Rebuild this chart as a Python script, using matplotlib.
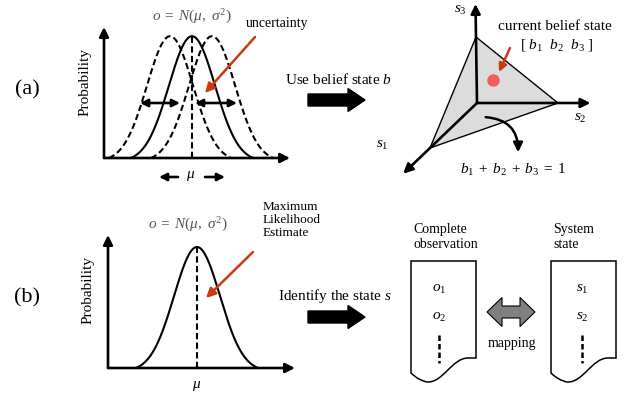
import numpy as np
import matplotlib
matplotlib.use('Agg')
import matplotlib.pyplot as plt
import matplotlib.patches as mpatches
from matplotlib.path import Path

plt.rcParams['font.family'] = ['Liberation Serif', 'DejaVu Serif']
plt.rcParams['mathtext.fontset'] = 'custom'
plt.rcParams['mathtext.rm'] = 'Liberation Serif'
plt.rcParams['mathtext.it'] = 'Liberation Serif:italic'
plt.rcParams['mathtext.bf'] = 'Liberation Serif:bold'

# bell curves: (a) three candidate means, (b) one
means_a = [3.55, 4.73, 5.81]
styles_a = ['--', '-', '--']
sigma_a = 1.24
peak_a = 0.93
mean_b = 4.76
sigma_b = 1.23
peak_b = 0.91
half_base = 2.65  # curve drawn out to this many sigmas

# belief simplex
belief = [0.2, 0.32, 0.48]
simplex_origin = (477, 103)
simplex_vecs = [(-47, 45), (81, 0), (-1, -66)]
axis_len = [1.57, 1.4, 1.5]
simplex_labels = ['$s_1$', '$s_2$', '$s_3$']

obs_labels = ['$o_1$', '$o_2$']
state_labels = ['$s_1$', '$s_2$']

RED = '#cc3a10'
W, H = 628, 399
fig = plt.figure(figsize=(W / 100, H / 100), dpi=100)


def bell(x, m, s, peak):
    g = np.exp(-(x - m) ** 2 / (2 * s * s))
    g0 = np.exp(-half_base ** 2 / 2)
    return peak * (g - g0) / (1 - g0)


def px_axes(x0, y0, x1, y1):
    return fig.add_axes([x0 / W, 1 - y1 / H, (x1 - x0) / W, (y1 - y0) / H])


def arrow_axes(ax):
    ax.set_xlim(0, 10)
    ax.set_ylim(0, 1)
    ax.axis('off')
    kw = dict(arrowstyle='-|>', lw=1.9, color='k', mutation_scale=14,
              shrinkA=0, shrinkB=0)
    ax.annotate('', xy=(1, 0), xytext=(0, 0), xycoords='axes fraction', arrowprops=kw)
    ax.annotate('', xy=(0, 1), xytext=(0, 0), xycoords='axes fraction', arrowprops=kw)


# ---- panel (a) curves
ax_a = px_axes(104, 27, 290, 158)
arrow_axes(ax_a)
for m, ls in zip(means_a, styles_a):
    x = np.linspace(m - half_base * sigma_a, m + half_base * sigma_a, 200)
    line, = ax_a.plot(x, bell(x, m, sigma_a, peak_a), color='k', lw=1.5, ls=ls)
    if ls == '--':
        line.set_dashes((3, 1.6))
ax_a.plot([means_a[1], means_a[1]], [0, peak_a], color='k', lw=1.5, dashes=(3, 1.6))

# ---- panel (b) curve
ax_b = px_axes(108, 235, 295, 368)
arrow_axes(ax_b)
x = np.linspace(mean_b - half_base * sigma_b, mean_b + half_base * sigma_b, 200)
ax_b.plot(x, bell(x, mean_b, sigma_b, peak_b), color='k', lw=1.5)
ax_b.plot([mean_b, mean_b], [0, peak_b], color='k', lw=1.5, dashes=(3, 1.6))

# ---- overlay in pixel coordinates
ov = fig.add_axes([0, 0, 1, 1])
ov.set_xlim(0, W)
ov.set_ylim(H, 0)
ov.axis('off')
ov.patch.set_alpha(0)


def arr(p_to, p_from, style='-|>', lw=1.9, ms=12, color='k'):
    ov.annotate('', xy=p_to, xytext=p_from,
                arrowprops=dict(arrowstyle=style, lw=lw, color=color,
                                mutation_scale=ms, shrinkA=0, shrinkB=0))


formula = r'$o\;=\;N(\mu,\ \sigma^2)$'
ov.text(27, 90, '(a)', fontsize=16, ha='center', va='center')
ov.text(27, 298, '(b)', fontsize=16, ha='center', va='center')
ov.text(85, 82, 'Probability', fontsize=11, rotation=90, ha='center', va='center')
ov.text(88, 290, 'Probability', fontsize=11, rotation=90, ha='center', va='center')
ov.text(192, 17, formula, fontsize=11, color='#555555', ha='center', va='center')
ov.text(188, 225, formula, fontsize=11, color='#555555', ha='center', va='center')

# uncertainty arrows
arr((140, 103), (180, 103), style='<|-|>', ms=11)
arr((195, 103), (237, 103), style='<|-|>', ms=11)
arr((159, 177), (178, 177), ms=11)
arr((225, 177), (205, 177), ms=11)
ov.text(191, 176, r'$\mu$', fontsize=11, ha='center', va='center')
ov.text(197, 386, r'$\mu$', fontsize=11, ha='center', va='center')

ov.text(246, 24, 'uncertainty', fontsize=10, ha='left', va='center')
arr((205, 93), (255, 37), lw=1.8, ms=14, color=RED)
ov.text(263, 220, 'Maximum\nLikelihood\nEstimate', fontsize=9.5, ha='left', va='center',
        linespacing=1.15)
arr((206, 298), (253, 252), lw=1.8, ms=14, color=RED)

# big arrows
ov.add_patch(mpatches.FancyArrow(308, 100, 57, 0, width=12, head_width=23, head_length=17,
                                 length_includes_head=True, color='k'))
ov.add_patch(mpatches.FancyArrow(308, 317, 57, 0, width=12, head_width=23, head_length=17,
                                 length_includes_head=True, color='k'))
ov.text(285, 80, 'Use belief state $b$', fontsize=11, ha='left', va='center')
ov.text(278, 296, 'Identify the state $s$', fontsize=11, ha='left', va='center')

# simplex
O = np.array(simplex_origin, dtype=float)
E = np.array(simplex_vecs, dtype=float)
tri = O + E
ov.add_patch(mpatches.Polygon(tri, closed=True, facecolor='#dcdcdc', edgecolor='k', lw=1.0))
for i in range(3):
    arr(tuple(O + axis_len[i] * E[i]), tuple(O), lw=1.9, ms=14)
p = O + np.array(belief) @ E
ov.plot(p[0], p[1], 'o', ms=9, color='#f25c5c', mec='none')
arr((499, 72), (510, 48), lw=1.8, ms=12, color=RED)
ov.text(382, 145, simplex_labels[0], fontsize=11, ha='center', va='center')
ov.text(580, 118, simplex_labels[1], fontsize=11, ha='center', va='center')
ov.text(460, 10, simplex_labels[2], fontsize=11, ha='center', va='center')
ov.text(498, 26, 'current belief state', fontsize=11, ha='left', va='center')
ov.text(557, 45, r'[ $b_1$  $b_2$  $b_3$ ]', fontsize=11, ha='center', va='center')
ov.add_patch(mpatches.FancyArrowPatch((483, 117), (518, 155), connectionstyle='arc3,rad=-0.5',
                                      arrowstyle='-|>', mutation_scale=14, lw=1.8, color='k'))
ov.text(513, 170, r'$b_1\;+\;b_2\;+\;b_3\;=\;1$', fontsize=11, ha='center', va='center')


# document boxes
def doc(x0, x1, top, yl, yr):
    verts = [(x0, yl), (x0, top), (x1, top), (x1, yr), (x1 - 8, yr),
             (x1 - 24, yr), (x1 - 33, yl + 10), (x0 + 16, yl + 9),
             (x0 + 7, yl + 7), (x0, yl), (x0, yl)]
    codes = [Path.MOVETO, Path.LINETO, Path.LINETO, Path.LINETO, Path.LINETO,
             Path.CURVE4, Path.CURVE4, Path.CURVE4, Path.CURVE3, Path.CURVE3, Path.CLOSEPOLY]
    ov.add_patch(mpatches.PathPatch(Path(verts, codes), facecolor='white', edgecolor='k', lw=1.1))


for x0, labels, title in [(411, obs_labels, 'Complete\nobservation'),
                          (551, state_labels, 'System\nstate')]:
    doc(x0, x0 + 65, 261, 373, 358)
    ov.text(x0 + 2, 237, title, fontsize=10, ha='left', va='center', linespacing=1.1)
    cx = x0 + 28 if x0 == 411 else x0 + 31
    ov.text(cx, 289, labels[0], fontsize=11, ha='center', va='center')
    ov.text(cx, 317, labels[1], fontsize=11, ha='center', va='center')
    ov.plot([cx, cx], [335, 363], color='k', lw=1.8, dashes=(2.2, 1.2))

# mapping double arrow
cx, cy, L, hl, hh, sh = 511, 312, 24, 15, 14.5, 6
pts = [(cx - L, cy), (cx - L + hl, cy - hh), (cx - L + hl, cy - sh), (cx + L - hl, cy - sh),
       (cx + L - hl, cy - hh), (cx + L, cy), (cx + L - hl, cy + hh), (cx + L - hl, cy + sh),
       (cx - L + hl, cy + sh), (cx - L + hl, cy + hh)]
ov.add_patch(mpatches.Polygon(pts, closed=True, facecolor='#808080', edgecolor='k', lw=0.8))
ov.text(512, 343, 'mapping', fontsize=10, ha='center', va='center')

fig.savefig('out.png', dpi=100)
